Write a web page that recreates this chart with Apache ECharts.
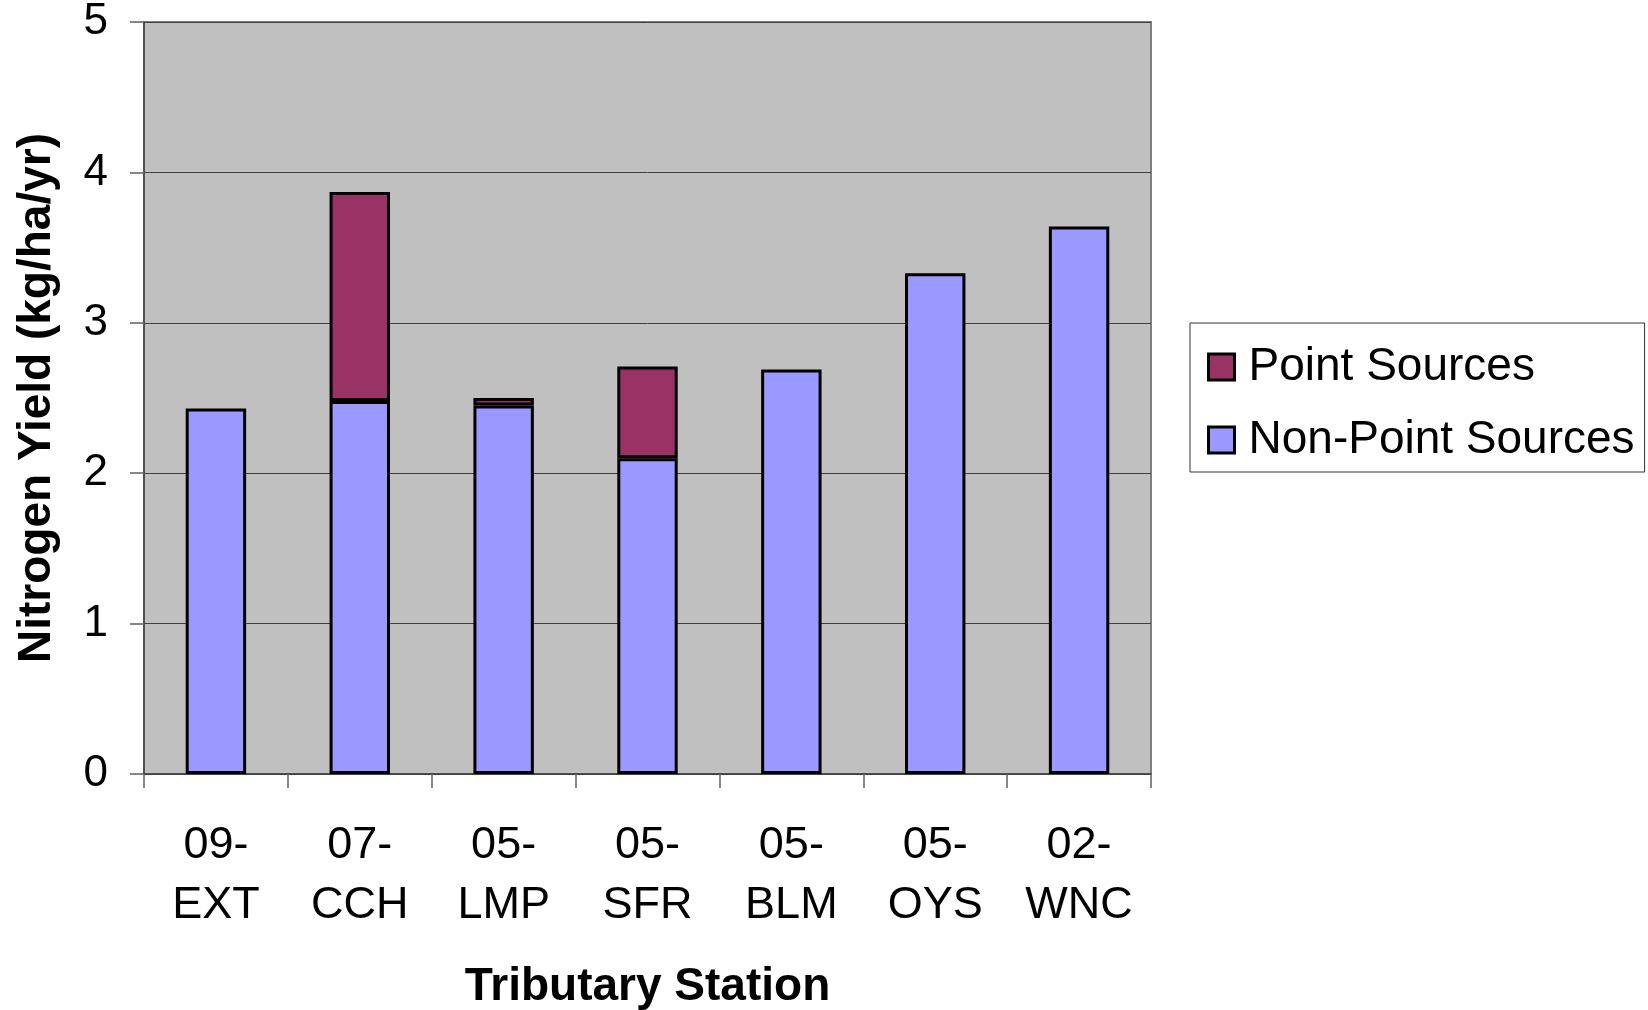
<!DOCTYPE html>
<html>
<head>
<meta charset="utf-8">
<script src="https://cdn.jsdelivr.net/npm/echarts@6/dist/echarts.min.js"></script>
<style>
  html, body { margin: 0; padding: 0; background: #fff; }
  #chart { width: 1648px; height: 1010px; }
</style>
</head>
<body>
<div id="chart"></div>
<script>
const stations = ['09-\nEXT', '07-\nCCH', '05-\nLMP', '05-\nSFR', '05-\nBLM', '05-\nOYS', '02-\nWNC'];
const nonPointSources = [2.43, 2.48, 2.45, 2.10, 2.69, 3.33, 3.64];
const pointSources = [0, 1.39, 0.05, 0.61, 0, 0, 0];
const yTicks = [0, 1, 2, 3, 4, 5];

const font = '"Liberation Sans", Arial, sans-serif';
const chart = echarts.init(document.getElementById('chart'));

chart.setOption({
  animation: false,
  textStyle: { fontFamily: font, color: '#000' },
  grid: {
    left: 144, right: 497, top: 22, bottom: 236,
    outerBoundsMode: 'none',
    containLabel: false,
    show: true, backgroundColor: '#C0C0C0', borderColor: '#808080', borderWidth: 2
  },
  legend: {
    orient: 'vertical',
    left: 1190, top: 323,
    padding: [21, 10, 9, 17],
    itemGap: 27,
    itemWidth: 26, itemHeight: 26,
    backgroundColor: '#fff',
    borderColor: '#333', borderWidth: 1,
    textStyle: { fontSize: 46, fontFamily: font, color: '#000', padding: [0, 0, 0, 9] },
    data: [
      { name: 'Point Sources', icon: 'rect', itemStyle: { color: '#993366', borderColor: '#000', borderWidth: 3 } },
      { name: 'Non-Point Sources', icon: 'rect', itemStyle: { color: '#9999FF', borderColor: '#000', borderWidth: 3 } }
    ]
  },
  xAxis: {
    type: 'category',
    data: stations,
    name: 'Tributary Station',
    nameLocation: 'middle',
    nameGap: 190,
    nameTextStyle: { fontSize: 46, fontWeight: 'bold', fontFamily: font, lineHeight: 46 },
    axisLine: { lineStyle: { color: '#404040', width: 1.5 } },
    axisTick: { show: true, alignWithLabel: false, length: 14, lineStyle: { color: '#606060', width: 1.5 } },
    axisLabel: { fontSize: 45, lineHeight: 60, margin: 42, color: '#000', interval: 0 }
  },
  yAxis: {
    type: 'value',
    min: yTicks[0], max: yTicks[yTicks.length - 1], interval: 1,
    name: 'Nitrogen Yield (kg/ha/yr)',
    nameLocation: 'middle',
    nameRotate: 90,
    nameGap: 84,
    nameTextStyle: { fontSize: 46, fontWeight: 'bold', fontFamily: font, lineHeight: 46 },
    axisLine: { show: true, lineStyle: { color: '#404040', width: 1.5 } },
    axisTick: { show: true, length: 14, lineStyle: { color: '#606060', width: 1.5 } },
    axisLabel: { fontSize: 44, margin: 36, color: '#000' },
    splitLine: { show: true, lineStyle: { color: '#404040', width: 1 } }
  },
  series: [
    {
      name: 'Non-Point Sources',
      type: 'bar',
      stack: 'total',
      barWidth: '42%',
      data: nonPointSources,
      itemStyle: { color: '#9999FF', borderColor: '#000', borderWidth: 3 }
    },
    {
      name: 'Point Sources',
      type: 'bar',
      stack: 'total',
      barWidth: '42%',
      data: pointSources.map(v => (v > 0 ? v : '-')),
      itemStyle: { color: '#993366', borderColor: '#000', borderWidth: 3 }
    }
  ]
});
</script>
</body>
</html>
